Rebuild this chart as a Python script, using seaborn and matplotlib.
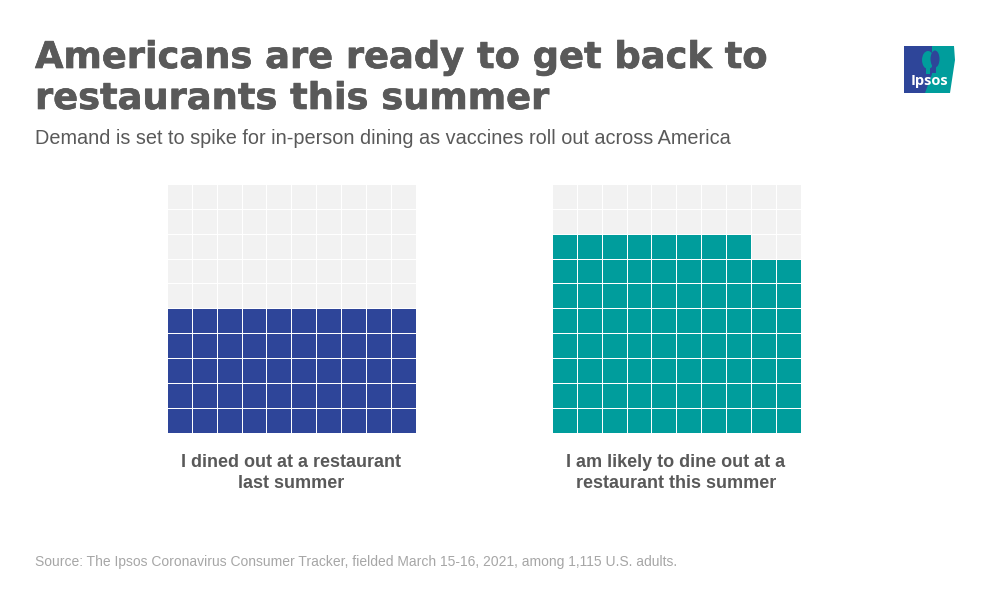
import numpy as np
import matplotlib
matplotlib.use("Agg")
import matplotlib.pyplot as plt
import matplotlib.patheffects as pe
from matplotlib.colors import ListedColormap
from matplotlib.patches import Polygon, Ellipse, Rectangle
import seaborn as sns

# values (percent of adults, one square = 1%)
labels = [["I dined out at a restaurant", "last summer"],
          ["I am likely to dine out at a", "restaurant this summer"]]
percents = [50, 78]
colors = ["#2E4599", "#009D9C"]
EMPTY = "#F2F2F2"
GREY = "#595959"

sns.set_theme(style="white")
plt.rcParams["font.family"] = ["Liberation Sans", "DejaVu Sans"]


def waffle_cells(pct, n=10):
    # fills from the bottom row up, left to right
    cells = np.zeros(n * n, dtype=int)
    cells[:pct] = 1
    return cells.reshape(n, n)[::-1]


fig = plt.figure(figsize=(10, 6), dpi=100, facecolor="white")


def px_text(x, y, s, **kw):
    return fig.text(x / 1000, 1 - y / 600, s, **kw)


for y, line in [(57.5, "Americans are ready to get back to"), (98.5, "restaurants this summer")]:
    t = px_text(35, y, line, fontsize=26.5, fontweight="bold", family="DejaVu Sans",
                color=GREY, va="center")
    t.set_path_effects([pe.withStroke(linewidth=0.5, foreground=GREY)])
px_text(35, 139, "Demand is set to spike for in-person dining as vaccines roll out across America",
        fontsize=14.3, color=GREY, va="center")

lefts = [168, 553]
for left, pct, col, lab in zip(lefts, percents, colors, labels):
    ax = fig.add_axes([(left - 1) / 1000, 1 - 432.5 / 600, 248.5 / 1000, 248.5 / 600])
    sns.heatmap(waffle_cells(pct), ax=ax, cmap=ListedColormap([EMPTY, col]), vmin=0, vmax=1,
                cbar=False, linewidths=0.72, linecolor="white", square=False,
                xticklabels=False, yticklabels=False)
    px_text(left + 123, 462.5, lab[0], fontsize=13, fontweight="bold", color=GREY, ha="center", va="center")
    px_text(left + 123, 483, lab[1], fontsize=13, fontweight="bold", color=GREY, ha="center", va="center")

px_text(35, 562, "Source: The Ipsos Coronavirus Consumer Tracker, fielded March 15-16, 2021, among 1,115 U.S. adults.",
        fontsize=10.03, color="#A6A6A6", va="center")

# logo
logo = fig.add_axes([904 / 1000, 1 - 94 / 600, 52 / 1000, 48 / 600])
logo.set_xlim(904, 956)
logo.set_ylim(94, 46)
logo.axis("off")
logo.add_patch(Rectangle((904, 46), 28, 47, color=colors[0], lw=0))
logo.add_patch(Polygon([(932, 46), (954, 46), (955, 60), (950, 93), (925, 93), (932, 74)],
                       closed=True, color=colors[1], lw=0))
# tree on the blue side, face on the teal side
logo.add_patch(Ellipse((928, 60), 12, 18, color=colors[1], lw=0))
logo.add_patch(Rectangle((926, 66), 4, 8, color=colors[1], lw=0))
logo.add_patch(Ellipse((935, 59), 9, 17, color=colors[0], lw=0))
logo.add_patch(Rectangle((932, 64), 4, 9, color=colors[0], lw=0))
logo.text(929, 80.5, "Ipsos", color="white", fontsize=10.5, fontweight="bold", ha="center", va="center",
          family="Open Sans")

fig.savefig("out.png", dpi=100)
